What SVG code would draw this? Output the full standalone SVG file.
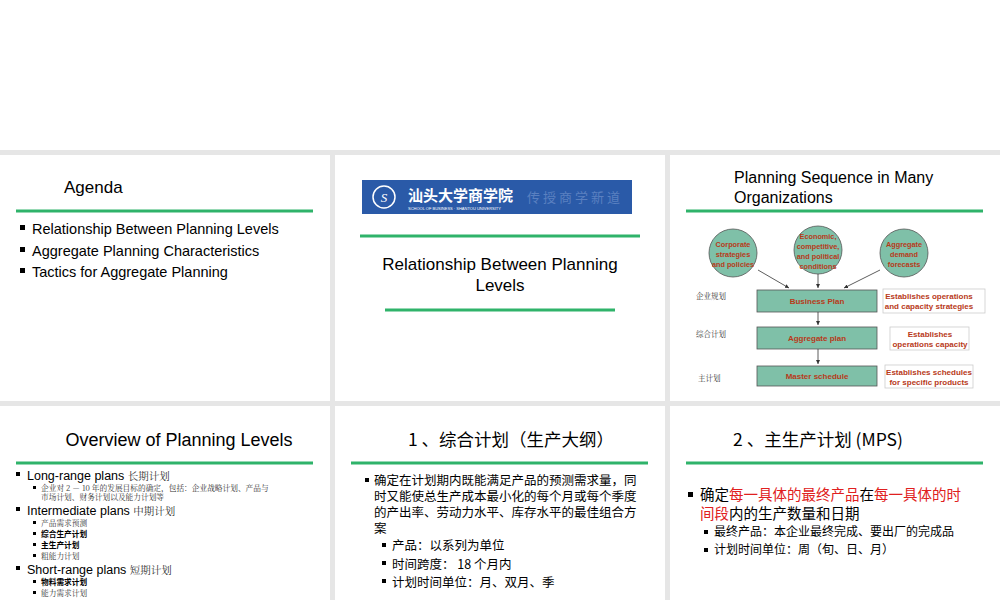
<svg xmlns="http://www.w3.org/2000/svg" width="1000" height="600" viewBox="0 0 1000 600">
<defs>
<style>
.s{fill:#fff}
.g{stroke:#2fb36a;stroke-width:3}
.t{font-family:"Liberation Sans","Noto Sans CJK SC",sans-serif;fill:#000}
.c{font-family:"Noto Sans CJK SC",sans-serif;fill:#000}
.sf{font-family:"Noto Serif CJK SC","Noto Sans CJK SC",serif;fill:#333}
.red{fill:#e02020}
.box{fill:#7fc0a8;stroke:#555;stroke-width:0.8}
.bt{font-family:"Liberation Sans",sans-serif;font-size:8px;font-weight:bold;fill:#b83a1a;text-anchor:middle}
.ct{font-size:7.3px}
.note{fill:#fff;stroke:#ccc;stroke-width:0.8}
.ln{stroke:#333;stroke-width:0.8;fill:none;marker-end:url(#a)}
.bu{fill:#000}
</style>
<marker id="a" viewBox="0 0 6 6" refX="6" refY="3" markerWidth="5" markerHeight="5" orient="auto"><path d="M0,0L6,3L0,6z" fill="#333"/></marker>
</defs>
<rect width="1000" height="600" fill="#e6e6e6"/>
<rect width="1000" height="150" fill="#fff"/>
<rect class="s" x="0" y="155" width="330" height="246"/>
<rect class="s" x="335" y="155" width="330" height="246"/>
<rect class="s" x="670" y="155" width="330" height="246"/>
<rect class="s" x="0" y="406" width="330" height="194"/>
<rect class="s" x="335" y="406" width="330" height="194"/>
<rect class="s" x="670" y="406" width="330" height="194"/>

<g id="slide1">
<text class="t" x="64" y="193" font-size="17">Agenda</text>
<line class="g" x1="16" y1="211" x2="313" y2="211"/>
<g class="bu"><rect x="20" y="225" width="5" height="5"/><rect x="20" y="247" width="5" height="5"/><rect x="20" y="268" width="5" height="5"/></g>
<g class="t" font-size="14.5">
<text x="32" y="234">Relationship Between Planning Levels</text>
<text x="32" y="256">Aggregate Planning Characteristics</text>
<text x="32" y="277">Tactics for Aggregate Planning</text>
</g>
</g>

<g id="slide2">
<rect x="362" y="180" width="270" height="34" fill="#2a5aa8"/>
<circle cx="384" cy="197" r="11" fill="none" stroke="#fff" stroke-width="1.5"/>
<text x="384" y="202" font-family="Liberation Serif,serif" font-size="13" fill="#fff" text-anchor="middle" font-style="italic">S</text>
<text x="408" y="201" font-family="Noto Sans CJK SC,sans-serif" font-size="15" font-weight="bold" fill="#fff">汕头大学商学院</text>
<text x="408" y="210" font-family="Liberation Sans,sans-serif" font-size="4" fill="#fff">SCHOOL OF BUSINESS · SHANTOU UNIVERSITY</text>
<text x="527" y="202" font-family="Noto Sans CJK SC,sans-serif" font-size="13" fill="#5a80c0" letter-spacing="3">传授商学新道</text>
<line class="g" x1="360" y1="236" x2="640" y2="236"/>
<text class="t" x="500" y="270" font-size="17" text-anchor="middle">Relationship Between Planning</text>
<text class="t" x="500" y="291" font-size="17" text-anchor="middle">Levels</text>
<line class="g" x1="385" y1="310" x2="615" y2="310"/>
</g>

<g id="slide3">
<text class="t" x="734" y="183" font-size="16">Planning Sequence in Many</text>
<text class="t" x="734" y="203" font-size="16">Organizations</text>
<line class="g" x1="686" y1="211" x2="983" y2="211"/>
<g id="c1"><circle class="box" cx="733" cy="253" r="24"/><text class="bt ct" x="733" y="247">Corporate</text><text class="bt ct" x="733" y="257">strategies</text><text class="bt ct" x="733" y="267">and policies</text></g>
<g id="c2"><circle class="box" cx="818" cy="250" r="24"/><text class="bt ct" x="818" y="239">Economic,</text><text class="bt ct" x="818" y="249">competitive,</text><text class="bt ct" x="818" y="259">and political</text><text class="bt ct" x="818" y="269">conditions</text></g>
<g id="c3"><circle class="box" cx="904" cy="253" r="24"/><text class="bt ct" x="904" y="247">Aggregate</text><text class="bt ct" x="904" y="257">demand</text><text class="bt ct" x="904" y="267">forecasts</text></g>
<g id="b1"><rect class="box" x="757" y="290" width="120" height="22"/><text class="bt" x="817" y="304">Business Plan</text></g>
<g id="b2"><rect class="box" x="757" y="327" width="120" height="22"/><text class="bt" x="817" y="341">Aggregate plan</text></g>
<g id="b3"><rect class="box" x="757" y="366" width="120" height="20"/><text class="bt" x="817" y="379">Master schedule</text></g>
<g id="n1"><rect class="note" x="883" y="289" width="102" height="24"/><text class="bt" x="929" y="299">Establishes operations</text><text class="bt" x="929" y="309">and capacity strategies</text></g>
<g id="n2"><rect class="note" x="890" y="327" width="79" height="23"/><text class="bt" x="930" y="337">Establishes</text><text class="bt" x="930" y="347">operations capacity</text></g>
<g id="n3"><rect class="note" x="885" y="365" width="88" height="23"/><text class="bt" x="929" y="375">Establishes schedules</text><text class="bt" x="929" y="385">for specific products</text></g>
<g class="sf" font-size="7.5"><text x="696" y="299">企业规划</text><text x="696" y="337">综合计划</text><text x="698" y="381">主计划</text></g>
<g id="connectors">
<line class="ln" x1="758" y1="270" x2="789" y2="288"/>
<line class="ln" x1="818" y1="274" x2="818" y2="288"/>
<line class="ln" x1="880" y1="270" x2="844" y2="288"/>
<line class="ln" x1="818" y1="312" x2="818" y2="325"/>
<line class="ln" x1="818" y1="349" x2="818" y2="364"/>
</g>
</g>

<g id="slide4">
<text class="t" x="179" y="446" font-size="18" text-anchor="middle">Overview of Planning Levels</text>
<line class="g" x1="16" y1="463" x2="313" y2="463"/>
<g class="bu"><rect x="16" y="472" width="4" height="4"/><rect x="16" y="507" width="4" height="4"/><rect x="16" y="566" width="4" height="4"/>
<rect x="33" y="486" width="3" height="3"/><rect x="33" y="521" width="3" height="3"/><rect x="33" y="532" width="3" height="3"/><rect x="33" y="543" width="3" height="3"/><rect x="33" y="554" width="3" height="3"/><rect x="33" y="580" width="3" height="3"/><rect x="33" y="591" width="3" height="3"/></g>
<g class="t" font-size="12.5">
<text x="27" y="480">Long-range plans <tspan class="sf" font-size="10.5">长期计划</tspan></text>
<text x="27" y="515">Intermediate plans <tspan class="sf" font-size="10.5">中期计划</tspan></text>
<text x="27" y="574">Short-range plans <tspan class="sf" font-size="10.5">短期计划</tspan></text>
</g>
<g class="sf" font-size="7.7">
<text x="41" y="491">企业对 2 － 10 年的发展目标的确定，包括：企业战略计划、产品与</text><text x="41" y="500">市场计划、财务计划以及能力计划等</text>
<text x="41" y="526">产品需求预测</text>
<text x="41" y="537" class="c" font-weight="bold">综合生产计划</text>
<text x="41" y="548" class="c" font-weight="bold">主生产计划</text>
<text x="41" y="559">粗能力计划</text>
<text x="41" y="585" class="c" font-weight="bold">物料需求计划</text>
<text x="41" y="596">能力需求计划</text>
</g>
</g>

<g id="slide5">
<text class="c" x="511" y="446" font-size="17.5" text-anchor="middle">1 、综合计划（生产大纲）</text>
<line class="g" x1="351" y1="463" x2="648" y2="463"/>
<g class="bu"><rect x="365" y="478" width="4" height="4"/><rect x="382" y="543" width="4" height="4"/><rect x="382" y="561" width="4" height="4"/><rect x="382" y="579" width="4" height="4"/></g>
<g class="c" font-size="12.5">
<text x="374" y="485">确定在计划期内既能满足产品的预测需求量，同</text>
<text x="374" y="501">时又能使总生产成本最小化的每个月或每个季度</text>
<text x="374" y="517">的产出率、劳动力水平、库存水平的最佳组合方</text>
<text x="374" y="533">案</text>
<text x="392" y="550">产品：以系列为单位</text>
<text x="392" y="569">时间跨度： 18 个月内</text>
<text x="392" y="587">计划时间单位：月、双月、季</text>
</g>
</g>

<g id="slide6">
<text class="c" x="733" y="446" font-size="17.5">2 、主生产计划 (MPS)</text>
<line class="g" x1="686" y1="463" x2="983" y2="463"/>
<g class="bu"><rect x="688" y="492" width="5" height="5"/><rect x="704" y="530" width="4" height="4"/><rect x="704" y="548" width="4" height="4"/></g>
<g class="c" font-size="14.5">
<text x="700" y="500">确定<tspan class="red">每一具体的最终产品</tspan>在<tspan class="red">每一具体的时</tspan></text>
<text x="700" y="519"><tspan class="red">间段</tspan>内的生产数量和日期</text>
</g>
<g class="c" font-size="12">
<text x="714" y="536">最终产品：本企业最终完成、要出厂的完成品</text>
<text x="714" y="554">计划时间单位：周（旬、日、月）</text>
</g>
</g>
</svg>
